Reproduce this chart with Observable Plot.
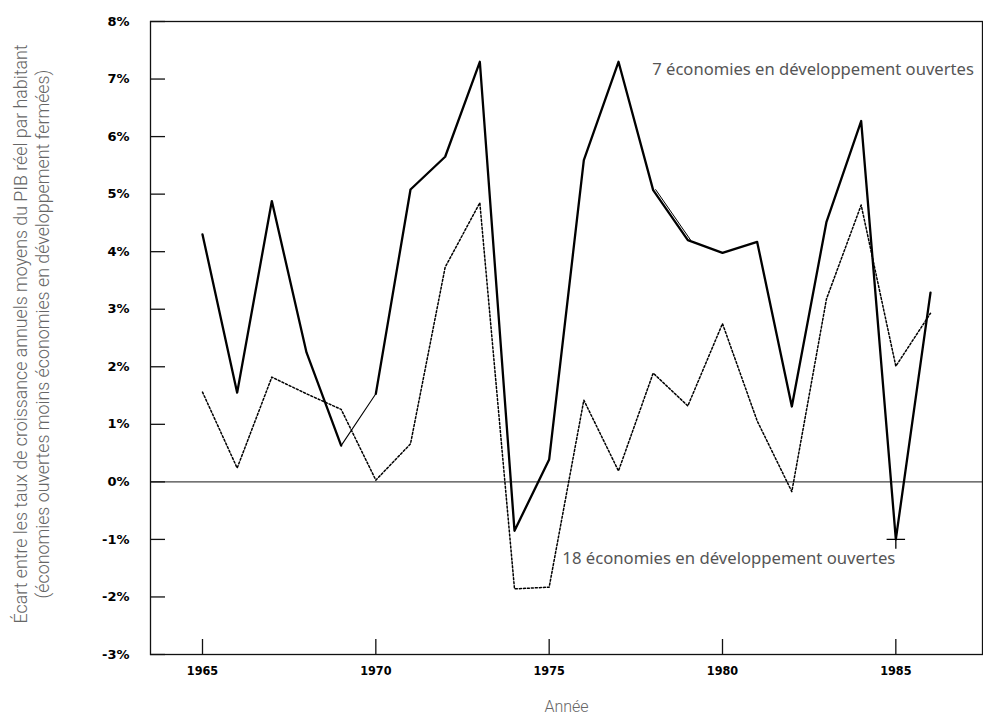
<!DOCTYPE html>
<html><head><meta charset="utf-8">
<script src="https://cdn.jsdelivr.net/npm/d3@7"></script>
<script src="https://cdn.jsdelivr.net/npm/@observablehq/plot@0.6"></script>
<style>html,body{margin:0;padding:0;background:#fff}</style>
</head><body><div id="chart"></div>
<script>
const years = [1965,1966,1967,1968,1969,1970,1971,1972,1973,1974,1975,1976,1977,1978,1979,1980,1981,1982,1983,1984,1985,1986];
const open7 = [4.30,1.55,4.88,2.25,0.63,1.53,5.08,5.65,7.30,-0.85,0.39,5.59,7.30,5.07,4.20,3.98,4.17,1.31,4.52,6.27,-1.00,3.29];
const open18 = [1.56,0.24,1.82,1.53,1.26,0.03,0.66,3.73,4.85,-1.86,-1.83,1.42,0.19,1.89,1.32,2.75,1.06,-0.17,3.18,4.81,2.01,2.93];
const yTicks = [-3,-2,-1,0,1,2,3,4,5,6,7,8];
const xTicks = [1965,1970,1975,1980,1985];
const label7 = "7 économies en développement ouvertes";
const label18 = "18 économies en développement ouvertes";
const yTitle = ["Écart entre les taux de croissance annuels moyens du PIB réel par habitant", "(économies ouvertes moins économies en développement fermées)"];
const xTitle = "Année";

const rows7 = years.map((year, i) => ({year, value: open7[i]}));
const rows18 = years.map((year, i) => ({year, value: open18[i]}));

const chart = Plot.plot({
  width: 983,
  height: 719,
  marginLeft: 150,
  marginRight: 1,
  marginTop: 21,
  marginBottom: 65,
  style: {fontFamily: "Noto Sans", background: "#fff"},
  x: {domain: [1963.5, 1987.5]},
  y: {domain: [-3, 8]},
  marks: [
    Plot.ruleY([0], {stroke: "#444", strokeWidth: 1.3}),
    Plot.line(rows18, {x: "year", y: "value", stroke: "#000", strokeWidth: 1.5, strokeDasharray: "2,2"}),
    Plot.line(rows7.filter(d => d.year <= 1969), {x: "year", y: "value", stroke: "#000", strokeWidth: 2.3}),
    Plot.line(rows7.filter(d => d.year >= 1969 && d.year <= 1970), {x: "year", y: "value", stroke: "#000", strokeWidth: 1.1}),
    Plot.line(rows7.filter(d => d.year >= 1970), {x: "year", y: "value", stroke: "#000", strokeWidth: 2.3}),
    Plot.line(rows7.filter(d => d.year >= 1978 && d.year <= 1979), {x: "year", y: "value", stroke: "#000", strokeWidth: 1, dx: 2.5, dy: -0.5}),
    Plot.dot(rows7.filter(d => d.year === 1985), {x: "year", y: "value", symbol: "plus", r: 6, stroke: "#000", strokeWidth: 1.3}),
    Plot.frame({stroke: "#111", strokeWidth: 1.3}),
    Plot.axisY(yTicks, {tickSize: 15, dx: 15, fill: "none", stroke: "#111", strokeWidth: 1.3, label: null}),
    Plot.axisY(yTicks, {tickSize: 0, tickPadding: 21, tickFormat: d => `${d}%`, fontFamily: "DejaVu Sans", fontWeight: "bold", fontSize: 13, fill: "#000", stroke: "none", label: null}),
    Plot.axisX(xTicks, {tickSize: 15, dy: -15, fill: "none", stroke: "#111", strokeWidth: 1.3, label: null}),
    Plot.axisX(xTicks, {tickSize: 0, tickPadding: 12, tickFormat: d => String(d), fontFamily: "DejaVu Sans Condensed", fontWeight: "bold", fontSize: 12.5, fill: "#000", stroke: "none", label: null}),
    Plot.text([label7], {x: 1987.25, y: 7.17, textAnchor: "end", fontSize: 16.6, fill: "#555", fontFamily: "Noto Sans"}),
    Plot.text([label18], {x: 1975.38, y: -1.34, textAnchor: "start", fontSize: 16.7, fill: "#555", fontFamily: "Noto Sans"}),
    Plot.text([xTitle], {frameAnchor: "bottom", dy: 52, lineAnchor: "middle", textAnchor: "middle", fontSize: 16, fill: "#666", fontFamily: "Roboto", fontWeight: 300}),
    Plot.text([yTitle.join("\n")], {frameAnchor: "left", textAnchor: "middle", lineAnchor: "middle", rotate: -90, dx: -120, dy: -4, fontSize: 17.8, lineHeight: 1.24, fill: "#666", fontFamily: "Roboto", fontWeight: 300})
  ]
});
document.getElementById("chart").appendChild(chart);
</script>
</body></html>
